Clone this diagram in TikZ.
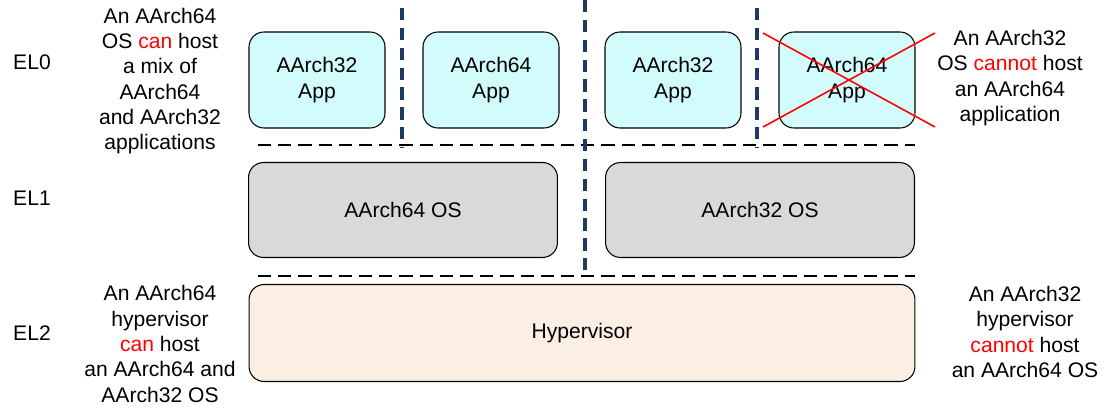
\documentclass[tikz,border=0pt]{standalone}
\usepackage{fontspec}
\setmainfont{Liberation Sans}
\definecolor{appcyan}{HTML}{D2FCFC}
\definecolor{osgrey}{HTML}{D9D9D9}
\definecolor{hypbeige}{HTML}{FBEEE2}
\definecolor{vmnavy}{HTML}{1F3864}
\newcommand{\nope}[1]{\textcolor{red}{#1}}
\begin{document}
\begin{tikzpicture}[x=0.02cm, y=-0.02cm,
  every node/.style = {font=\fontsize{12}{14.4}\selectfont,
    align=center, inner sep=0pt},
  box/.style = {shape=rectangle, rounded corners=0.3cm, draw, line width=0.6pt},
  app/.style = {box, fill=appcyan, minimum width=2.72cm, minimum height=1.92cm},
  os/.style = {box, fill=osgrey, minimum width=6.18cm, minimum height=1.9cm},
  hyp/.style = {box, fill=hypbeige, minimum width=13.32cm, minimum height=1.94cm},
  elsep/.style = {line width=1.1pt, dash pattern=on 7.5pt off 4pt},
  vmsep/.style = {draw=vmnavy, line width=2.7pt, dash pattern=on 7pt off 4.3pt},
  cross/.style = {red, line width=0.9pt}]
  \useasboundingbox (0,0) rectangle (1107,408);
  % exception levels
  \node (el0) at (32,62) {EL0};
  \node (el1) at (32,198) {EL1};
  \node (el2) at (32,333) {EL2};
  % EL0 applications
  \node[app] (app1) at (317,80) {AArch32\\App};
  \node[app] (app2) at (491,80) {AArch64\\App};
  \node[app] (app3) at (673,80) {AArch32\\App};
  \node[app] (app4) at (847,80) {AArch64\\App};
  % EL1 and EL2
  \node[os] (os64) at (403,210) {AArch64 OS};
  \node[os] (os32) at (760,210) {AArch32 OS};
  \node[hyp] (hyp) at (582,333) {Hypervisor};
  % separators
  \draw[elsep] (258,145) -- (915,145);
  \draw[elsep] (258,276) -- (915,276);
  \draw[vmsep] (402,8) -- (402,148);
  \draw[vmsep] (585,0) -- (585,276);
  \draw[vmsep] (757,8) -- (757,148);
  % not allowed
  \draw[cross] (763,33) -- (935,127);
  \draw[cross] (763,127) -- (935,33);
  % notes
  \node (note64os) at (160,81) {An AArch64\\OS \nope{can} host\\a mix of\\AArch64\\and AArch32\\applications};
  \node (note32os) at (1010,78) {An AArch32\\OS \nope{cannot} host\\an AArch64\\application};
  \node (note64hyp) at (160,344) {An AArch64\\hypervisor\\\nope{can} host\\an AArch64 and\\AArch32 OS};
  \node (note32hyp) at (1025,332) {An AArch32\\hypervisor\\\nope{cannot} host\\an AArch64 OS};
\end{tikzpicture}
\end{document}
